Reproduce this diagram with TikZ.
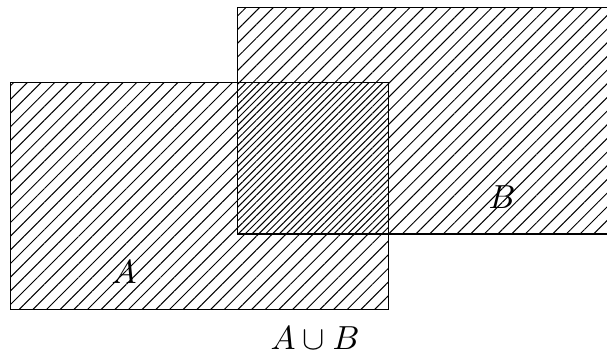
\documentclass[tikz,border=0pt]{standalone}
\usepackage{amsmath,amssymb}
\usetikzlibrary{patterns.meta,positioning}

\begin{document}
\begin{tikzpicture}[x=0.3pt, y=0.3pt,
    setA/.style={draw, line width=0.45pt, pattern={Lines[angle=45, distance=2.9pt, line width=0.3pt]}},
    setB/.style={draw, line width=0.45pt, pattern={Lines[angle=45, distance=2.9pt, line width=0.3pt, xshift=2.05pt]}}]
  \useasboundingbox (0,0) rectangle (607,356);
  \clip (0,0) rectangle (607,356);

  \coordinate (A1) at (10.7,46.7);
  \coordinate (A2) at (388.7,273.3);
  \coordinate (B1) at (237.3,122);
  \coordinate (B2) at (640,348.7);

  \draw[setA] (A1) rectangle (A2);
  \draw[setB] (B1) rectangle (B2);

  \node (labA) at (124,84) {$A$};
  \node (labB) at (502,159) {$B$};
  \node (union) at (315,18) {$A \cup B$};
\end{tikzpicture}
\end{document}
